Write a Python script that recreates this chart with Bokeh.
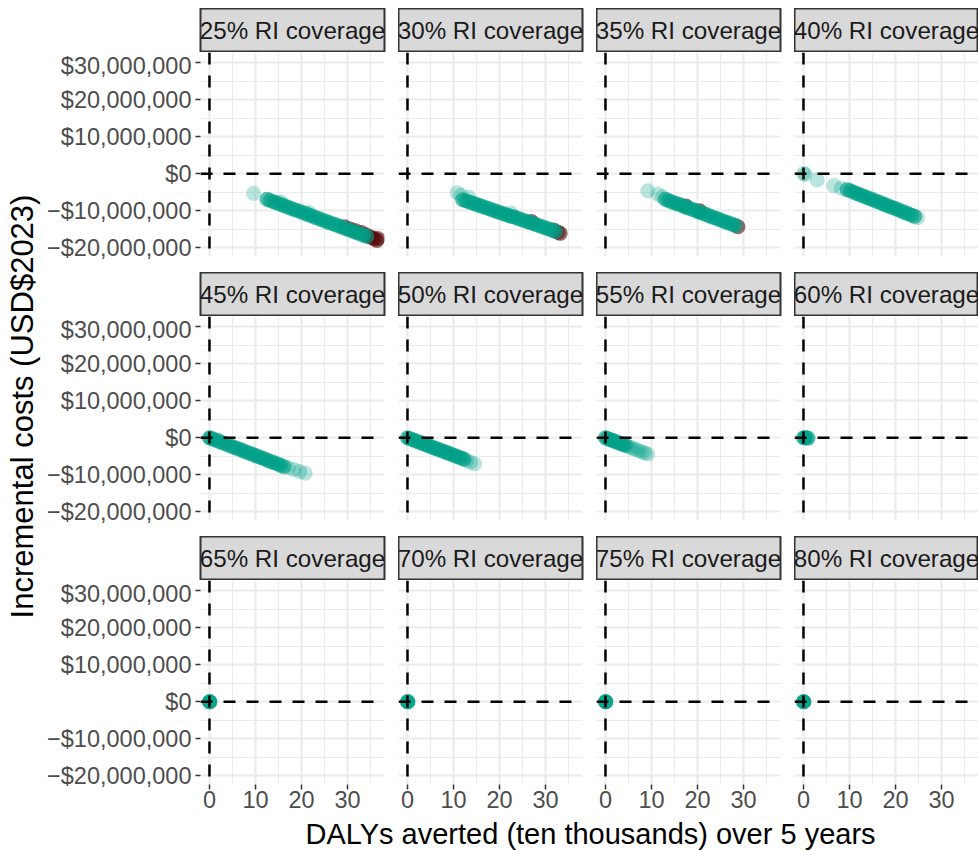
import math
from bokeh.plotting import figure
from bokeh.layouts import row, column, Spacer
from bokeh.models import Range1d, FixedTicker, Span, Grid
from bokeh.core.properties import value
from bokeh.embed import file_html
from bokeh.resources import INLINE

# ---------------- data ----------------
coverage_labels = ["25% RI coverage", "30% RI coverage", "35% RI coverage", "40% RI coverage",
                   "45% RI coverage", "50% RI coverage", "55% RI coverage", "60% RI coverage",
                   "65% RI coverage", "70% RI coverage", "75% RI coverage", "80% RI coverage"]

x_ticks = [0, 10, 20, 30]
x_minor = [5, 15, 25, 35]
y_ticks = [-20000000, -10000000, 0, 10000000, 20000000, 30000000]
y_minor = [-15000000, -5000000, 5000000, 15000000, 25000000]
y_tick_labels = ["\u2212$20,000,000", "\u2212$10,000,000", "$0",
                 "$10,000,000", "$20,000,000", "$30,000,000"]

x_title = "DALYs averted (ten thousands) over 5 years"
y_title = "Incremental costs (USD$2023)"

# DALYs averted (ten thousands) and incremental cost (USD millions), main runs
dalys_25 = [12.5, 13.2, 14.0, 14.7, 15.5, 16.2, 17.0, 17.8, 18.5, 19.3, 20.0, 20.8, 21.5, 22.3, 23.0, 23.8,
            24.5, 25.3, 26.0, 26.8, 27.5, 28.3, 29.0, 29.8, 30.5, 31.3, 32.0, 32.8, 33.5, 34.2]
cost_25 = [-6.9, -7.2, -7.6, -7.9, -8.3, -8.6, -9.0, -9.4, -9.7, -10.0, -10.4, -10.7, -11.1, -11.4, -11.8, -12.1,
           -12.5, -12.8, -13.2, -13.5, -13.8, -14.2, -14.5, -14.9, -15.2, -15.6, -15.9, -16.3, -16.6, -16.9]
dalys_30 = [12.0, 12.7, 13.4, 14.1, 14.8, 15.5, 16.2, 16.9, 17.6, 18.3, 19.0, 19.7, 20.4, 21.1, 21.8,
            22.5, 23.2, 23.9, 24.6, 25.3, 26.0, 26.7, 27.4, 28.1, 28.8, 29.5, 30.2, 30.9, 31.6, 32.2]
cost_30 = [-7.0, -7.3, -7.6, -7.9, -8.2, -8.5, -8.8, -9.1, -9.4, -9.7, -10.0, -10.3, -10.6, -10.9, -11.2,
           -11.5, -11.7, -12.0, -12.3, -12.6, -12.9, -13.2, -13.5, -13.8, -14.1, -14.4, -14.7, -15.0, -15.3, -15.6]
dalys_35 = [13.0, 13.7, 14.4, 15.1, 15.8, 16.5, 17.2, 17.9, 18.6, 19.3, 20.0, 20.7, 21.4, 22.1, 22.8,
            23.5, 24.2, 24.9, 25.6, 26.3, 27.0, 27.7, 28.3]
cost_35 = [-6.9, -7.2, -7.6, -7.9, -8.2, -8.5, -8.9, -9.2, -9.5, -9.8, -10.2, -10.5, -10.8, -11.1, -11.5,
           -11.8, -12.1, -12.4, -12.8, -13.1, -13.4, -13.7, -14.0]
dalys_40 = [9.5, 10.2, 10.9, 11.6, 12.3, 13.0, 13.7, 14.4, 15.1, 15.8, 16.5, 17.2, 17.9, 18.6, 19.3,
            20.0, 20.7, 21.4, 22.1, 22.8, 23.5, 24.2]
cost_40 = [-4.3, -4.6, -5.0, -5.3, -5.7, -6.0, -6.4, -6.7, -7.0, -7.4, -7.7, -8.1, -8.4, -8.8, -9.1,
           -9.4, -9.8, -10.1, -10.5, -10.8, -11.2, -11.5]
dalys_45 = [0.0, 0.3, 0.9, 1.5, 2.2, 2.9, 3.6, 4.3, 5.0, 5.7, 6.4, 7.1, 7.8, 8.5, 9.2, 9.9, 10.6, 11.3,
            12.0, 12.7, 13.4, 14.1, 14.8, 15.5, 16.2]
cost_45 = [0.0, -0.15, -0.4, -0.7, -1.05, -1.4, -1.7, -2.05, -2.4, -2.75, -3.05, -3.4, -3.75, -4.1, -4.4,
           -4.75, -5.1, -5.4, -5.75, -6.1, -6.45, -6.75, -7.1, -7.45, -7.8]
dalys_50 = [0.0, 0.4, 1.0, 1.6, 2.2, 2.8, 3.4, 4.0, 4.6, 5.2, 5.8, 6.4, 7.0, 7.6, 8.2, 8.8, 9.4, 10.0,
            10.6, 11.2, 11.8, 12.3]
cost_50 = [0.0, -0.2, -0.45, -0.75, -1.05, -1.3, -1.6, -1.9, -2.15, -2.45, -2.75, -3.0, -3.3, -3.55,
           -3.85, -4.15, -4.4, -4.7, -5.0, -5.25, -5.55, -5.8]
dalys_55 = [0.0, 0.4, 0.9, 1.4, 1.9, 2.4, 2.9, 3.4, 3.9, 4.4]
cost_55 = [0.0, -0.2, -0.45, -0.65, -0.9, -1.15, -1.4, -1.6, -1.85, -2.1]
dalys_60 = [0.0, 0.3, 0.6, 1.0]
cost_60 = [0.0, 0.0, -0.05, -0.1]
dalys_65 = [0.0, 0.05, 0.1]
cost_65 = [0.0, 0.0, 0.0]
dalys_70 = [0.0, 0.05, 0.1]
cost_70 = [0.0, 0.0, 0.0]
dalys_75 = [0.0, 0.05, 0.1]
cost_75 = [0.0, 0.0, 0.0]
dalys_80 = [0.0, 0.05, 0.1]
cost_80 = [0.0, 0.0, 0.0]

# sparse (lighter) runs
pale_dalys_25 = [9.6, 15.4, 21.6]
pale_cost_25 = [-5.3, -7.6, -10.4]
pale_dalys_30 = [10.8, 11.6, 13.3, 22.5]
pale_cost_30 = [-5.1, -5.8, -6.3, -10.6]
pale_dalys_35 = [9.2, 11.4, 12.4]
pale_cost_35 = [-4.6, -5.5, -6.2]
pale_dalys_40 = [0.0, 0.4, 3.0, 6.6, 8.2, 24.8]
pale_cost_40 = [0.1, -0.2, -1.7, -3.2, -3.9, -11.9]
pale_dalys_45 = [2.0, 17.2, 18.4, 19.6, 20.8]
pale_cost_45 = [-0.6, -8.1, -8.6, -9.1, -9.6]
pale_dalys_50 = [12.9, 13.7, 14.6]
pale_cost_50 = [-6.2, -6.6, -7.0]
pale_dalys_55 = [5.0, 5.6, 6.2, 6.8, 7.4, 8.0, 8.6, 9.2]
pale_cost_55 = [-2.4, -2.7, -3.0, -3.25, -3.55, -3.85, -4.1, -4.4]

# high-value runs (dark red)
red_dalys_25 = [29.4, 30.6, 31.8, 33.0, 34.0, 34.8, 35.4, 35.9, 36.4, 36.6]
red_cost_25 = [-14.3, -14.9, -15.4, -15.9, -16.5, -17.0, -17.3, -17.6, -18.0, -17.5]
red_dalys_30 = [27.0, 31.8, 32.7, 33.2]
red_cost_30 = [-12.9, -15.2, -15.8, -16.1]
red_dalys_35 = [17.5, 20.5, 28.8]
red_cost_35 = [-8.7, -10.0, -14.3]

main_runs = [(dalys_25, cost_25), (dalys_30, cost_30), (dalys_35, cost_35), (dalys_40, cost_40),
             (dalys_45, cost_45), (dalys_50, cost_50), (dalys_55, cost_55), (dalys_60, cost_60),
             (dalys_65, cost_65), (dalys_70, cost_70), (dalys_75, cost_75), (dalys_80, cost_80)]
pale_runs = {0: (pale_dalys_25, pale_cost_25), 1: (pale_dalys_30, pale_cost_30),
             2: (pale_dalys_35, pale_cost_35), 3: (pale_dalys_40, pale_cost_40),
             4: (pale_dalys_45, pale_cost_45), 5: (pale_dalys_50, pale_cost_50),
             6: (pale_dalys_55, pale_cost_55)}
red_runs = {0: (red_dalys_25, red_cost_25), 1: (red_dalys_30, red_cost_30),
            2: (red_dalys_35, red_cost_35)}

# ---------------- style ----------------
TEAL = "#00A087"
RED = "#5A0A0A"
FONT = "Liberation Sans"
GRID = "#EBEBEB"

XR = (-1.95, 38.05)
YR = (-22.35e6, 32.75e6)

col_left = [156, 0, 0, 0]
col_right = [14, 14, 14, 0]
FRAME_W = 184
STRIP_H = 44
FRAME_H = 204
GAP = 16
BOTTOM_AXIS = 32
TOP_PAD = 8
LEFT_W = 44
XL_H = 34
TOTAL_H = TOP_PAD + 3 * (STRIP_H + FRAME_H) + 2 * GAP + BOTTOM_AXIS + XL_H


def usd(vals):
    return [v * 1e6 for v in vals]


def make_strip(i):
    r, c = divmod(i, 4)
    s = figure(width=col_left[c] + FRAME_W + col_right[c], height=STRIP_H,
               x_range=Range1d(0, 1), y_range=Range1d(0, 1),
               x_axis_location=None, y_axis_location=None, title=None,
               toolbar_location=None, output_backend="svg",
               min_border_left=col_left[c], min_border_right=col_right[c],
               min_border_top=0, min_border_bottom=0)
    s.xgrid.visible = False
    s.ygrid.visible = False
    s.background_fill_color = "#D9D9D9"
    s.border_fill_color = "white"
    s.outline_line_color = "#333333"
    s.outline_line_width = 2
    s.text(x=[0.5], y=[0.5], text=[coverage_labels[i]], text_align="center",
           text_baseline="middle", text_font=value(FONT), text_font_size="24.2px",
           text_color="#1A1A1A")
    return s


def make_panel(i):
    r, c = divmod(i, 4)
    bottom = BOTTOM_AXIS if r == 2 else GAP
    p = figure(width=col_left[c] + FRAME_W + col_right[c], height=FRAME_H + bottom,
               x_range=Range1d(*XR), y_range=Range1d(*YR), title=None,
               x_axis_location="below" if r == 2 else None,
               y_axis_location="left" if c == 0 else None,
               toolbar_location=None, output_backend="svg",
               min_border_left=col_left[c], min_border_right=col_right[c],
               min_border_top=0, min_border_bottom=bottom)
    p.outline_line_color = None
    p.background_fill_color = "white"
    p.border_fill_color = "white"
    if len(p.xgrid) == 0:
        p.add_layout(Grid(dimension=0), "center")
    if len(p.ygrid) == 0:
        p.add_layout(Grid(dimension=1), "center")
    p.xgrid.ticker = FixedTicker(ticks=x_ticks, minor_ticks=x_minor)
    p.ygrid.ticker = FixedTicker(ticks=y_ticks, minor_ticks=y_minor)
    for g in list(p.xgrid) + list(p.ygrid):
        g.grid_line_color = GRID
        g.grid_line_width = 2.2
        g.minor_grid_line_color = GRID
        g.minor_grid_line_width = 1.1

    if r == 2:
        ax = p.xaxis
        ax.ticker = FixedTicker(ticks=x_ticks)
        ax.axis_line_color = None
        ax.major_tick_line_color = "#333333"
        ax.major_tick_line_width = 1.5
        ax.major_tick_out = 5
        ax.major_tick_in = 0
        ax.minor_tick_line_color = None
        ax.major_label_text_font = FONT
        ax.major_label_text_font_size = "23.5px"
        ax.major_label_text_color = "#4D4D4D"
        ax.major_label_standoff = 1
    if c == 0:
        ay = p.yaxis
        ay.ticker = FixedTicker(ticks=y_ticks)
        ay.major_label_overrides = {t: lab for t, lab in zip(y_ticks, y_tick_labels)}
        ay.axis_line_color = None
        ay.major_tick_line_color = "#333333"
        ay.major_tick_line_width = 1.5
        ay.major_tick_out = 5
        ay.major_tick_in = 0
        ay.minor_tick_line_color = None
        ay.major_label_text_font = FONT
        ay.major_label_text_font_size = "23.5px"
        ay.major_label_text_color = "#4D4D4D"
        ay.major_label_standoff = 4

    if i in red_runs:
        rx, ry = red_runs[i]
        p.scatter(rx, usd(ry), size=15, color=RED, alpha=0.6, line_color=None)
    if i in pale_runs:
        px, py = pale_runs[i]
        p.scatter(px, usd(py), size=15, color=TEAL, alpha=0.28, line_color=None)
    mx, my = main_runs[i]
    p.scatter(mx, usd(my), size=15, color=TEAL, alpha=0.65, line_color=None)

    p.add_layout(Span(location=0, dimension="width", line_color="black",
                      line_width=2.5, line_dash="12 11"))
    p.add_layout(Span(location=0, dimension="height", line_color="black",
                      line_width=2.5, line_dash="12 11"))
    return p


strips = [make_strip(i) for i in range(12)]
panels = [make_panel(i) for i in range(12)]

rows = [Spacer(width=934, height=TOP_PAD)]
for r in range(3):
    rows.append(row(*strips[4 * r:4 * r + 4], spacing=0))
    rows.append(row(*panels[4 * r:4 * r + 4], spacing=0))

XL_W = 934
xlab = figure(width=XL_W, height=XL_H, x_range=Range1d(0, XL_W), y_range=Range1d(0, XL_H),
              x_axis_location=None, y_axis_location=None, title=None,
              toolbar_location=None, output_backend="svg",
              min_border=0)
xlab.xgrid.visible = False
xlab.ygrid.visible = False
xlab.outline_line_color = None
xlab.text(x=[546], y=[17], text=[x_title], text_align="center", text_baseline="middle",
          text_font=value(FONT), text_font_size="29px", text_color="black")

ylab = figure(width=LEFT_W, height=TOTAL_H, x_range=Range1d(0, LEFT_W), y_range=Range1d(0, TOTAL_H),
              x_axis_location=None, y_axis_location=None, title=None,
              toolbar_location=None, output_backend="svg", min_border=0)
ylab.xgrid.visible = False
ylab.ygrid.visible = False
ylab.outline_line_color = None
ylab.text(x=[22], y=[TOTAL_H - 406], text=[y_title], angle=math.pi / 2, text_align="center",
          text_baseline="middle", text_font=value(FONT), text_font_size="31px",
          text_color="black")

grid = column(*rows, xlab, spacing=0)
layout = row(ylab, grid, spacing=0)

open("out.html", "w").write(file_html(layout, INLINE))
